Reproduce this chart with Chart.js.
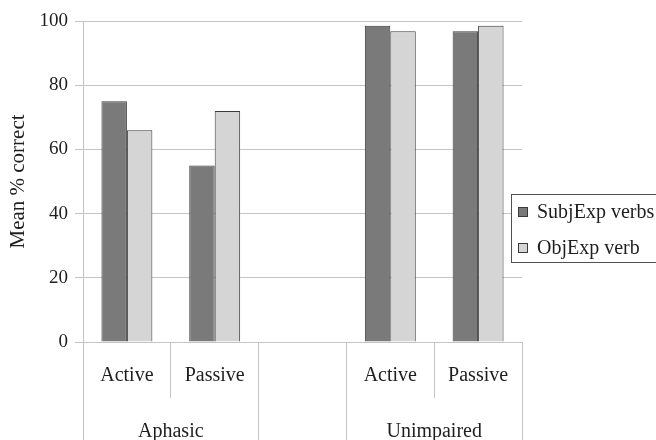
<!DOCTYPE html>
<html lang="en">
<head>
<meta charset="UTF-8">
<title>Mean % correct</title>
<script src="https://cdn.jsdelivr.net/npm/chart.js@4.4.4/dist/chart.umd.js"></script>
<style>
  body { margin: 0; background: #fff; }
</style>
</head>
<body>
<canvas id="myChart" width="656" height="440"></canvas>
<script>
// categories on the x axis (empty slot separates the two groups)
const conditions = ['Active', 'Passive', '', 'Active', 'Passive'];
// second level of the axis: group name + first/last category index
const groups = [
  { name: 'Aphasic', from: 0, to: 1 },
  { name: '', from: 2, to: 2 },
  { name: 'Unimpaired', from: 3, to: 4 }
];
const seriesNames = ['SubjExp verbs', 'ObjExp verb'];
const subjExp = [75, 55, null, 98.5, 96.8];
const objExp = [66, 72, null, 96.8, 98.5];
const yMin = 0, yMax = 100, yStep = 20;

const serif = '"Liberation Serif", "DejaVu Serif", serif';
const gridGray = '#c4c4c4';
const textCol = '#1e1e1e';

// same rounding Chart.js uses for 1px grid lines
const crisp = (px) => Math.round(px - 0.5) + 0.5;

// group labels and the long dividers under the category axis
const groupAxis = {
  id: 'groupAxis',
  afterDraw(chart) {
    const { ctx, scales: { x } } = chart;
    const half = (x.getPixelForValue(1) - x.getPixelForValue(0)) / 2;
    const top = chart.chartArea.bottom;
    const bottom = chart.height;
    ctx.save();
    ctx.strokeStyle = gridGray;
    ctx.lineWidth = 1;
    ctx.fillStyle = textCol;
    ctx.font = '20px ' + serif;
    ctx.textAlign = 'center';
    ctx.textBaseline = 'alphabetic';
    const line = (px) => {
      const p = crisp(px);
      ctx.beginPath();
      ctx.moveTo(p, top);
      ctx.lineTo(p, bottom);
      ctx.stroke();
    };
    groups.forEach((g, i) => {
      const left = x.getPixelForValue(g.from) - half;
      const right = x.getPixelForValue(g.to) + half;
      line(left);
      if (i === groups.length - 1) line(right);
      if (g.name) ctx.fillText(g.name, (left + right) / 2, 437);
    });
    ctx.restore();
  }
};

// boxed legend, overlapping the right edge of the plot
const boxLegend = {
  id: 'boxLegend',
  afterDraw(chart) {
    const ctx = chart.ctx;
    const x0 = 511, y0 = 194;
    ctx.save();
    ctx.fillStyle = '#fff';
    ctx.fillRect(x0, y0, 160, 68);
    ctx.strokeStyle = '#505050';
    ctx.lineWidth = 1;
    ctx.strokeRect(x0 + 0.5, y0 + 0.5, 160, 68);
    ctx.font = '20px ' + serif;
    ctx.textAlign = 'left';
    ctx.textBaseline = 'middle';
    chart.data.datasets.forEach((ds, i) => {
      const cy = 212 + i * 36;
      ctx.fillStyle = ds.backgroundColor;
      ctx.fillRect(518, cy - 5, 10, 10);
      ctx.strokeStyle = ds.borderColor;
      ctx.strokeRect(518.5, cy - 4.5, 9, 9);
      ctx.fillStyle = textCol;
      ctx.fillText(ds.label, 537, cy + 1);
    });
    ctx.restore();
  }
};

const ctx = document.getElementById('myChart').getContext('2d');
const myChart = new Chart(ctx, {
  type: 'bar',
  data: {
    labels: conditions,
    datasets: [
      {
        label: seriesNames[0],
        data: subjExp,
        backgroundColor: '#7a7a7a',
        borderColor: '#3a3a3a',
        borderWidth: 1
      },
      {
        label: seriesNames[1],
        data: objExp,
        backgroundColor: '#d5d5d5',
        borderColor: '#3a3a3a',
        borderWidth: 1
      }
    ]
  },
  options: {
    responsive: false,
    animation: false,
    layout: { padding: { top: 21, right: 134, left: 0, bottom: 0 } },
    datasets: {
      bar: { categoryPercentage: 0.58, barPercentage: 1 }
    },
    plugins: {
      legend: { display: false },
      tooltip: { enabled: false }
    },
    scales: {
      x: {
        grid: {
          offset: true,
          drawOnChartArea: false,
          tickLength: 56,
          color: gridGray
        },
        border: { display: true, color: gridGray },
        ticks: {
          padding: -34,
          color: textCol,
          font: { family: serif, size: 20 },
          maxRotation: 0,
          autoSkip: false
        },
        afterFit(scale) { scale.height = 98; }
      },
      y: {
        min: yMin,
        max: yMax,
        ticks: {
          stepSize: yStep,
          padding: 7,
          color: textCol,
          font: { family: serif, size: 19 }
        },
        grid: { color: gridGray, tickLength: 8 },
        border: { display: true, color: gridGray },
        title: {
          display: true,
          text: 'Mean % correct',
          color: textCol,
          font: { family: serif, size: 21 },
          padding: { top: 6, bottom: 0 }
        },
        afterFit(scale) { scale.width = 83; }
      }
    }
  },
  plugins: [groupAxis, boxLegend]
});
</script>
</body>
</html>
